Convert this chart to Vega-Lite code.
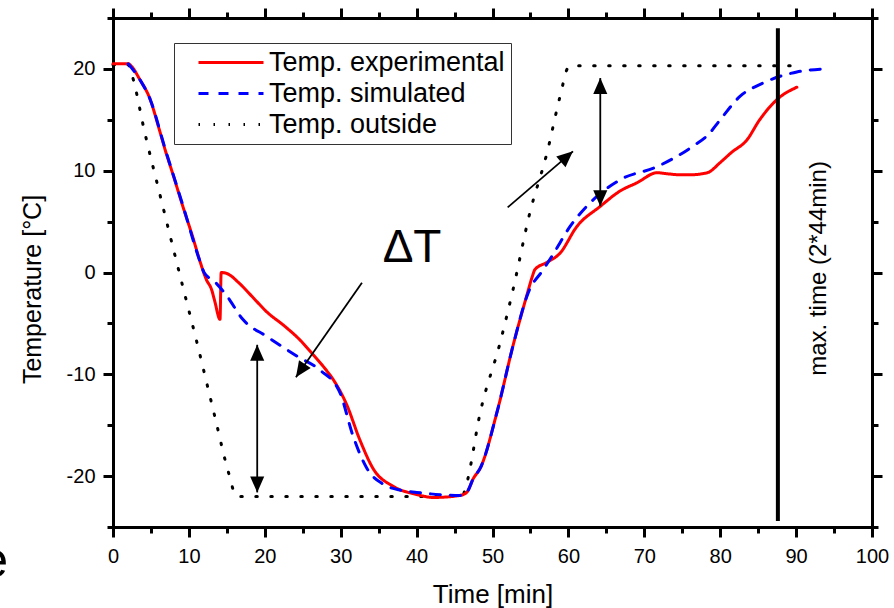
{
  "$schema": "https://vega.github.io/schema/vega-lite/v6.json",
  "width": 759,
  "height": 509,
  "autosize": {"type": "none"},
  "padding": {"left": 113, "top": 18, "right": 22, "bottom": 81},
  "background": "white",
  "config": {
    "font": "Liberation Sans",
    "view": {"stroke": null},
    "axis": {
      "grid": false,
      "domainColor": "black",
      "domainWidth": 3,
      "domainCap": "square",
      "tickColor": "black",
      "tickWidth": 3,
      "labelColor": "black",
      "titleColor": "black",
      "titleFontWeight": "normal",
      "labelFontSize": 20,
      "labelFlush": false,
      "labelOverlap": false
    }
  },
  "datasets": {
    "curves": [
      {"s": "Temp. outside", "t": 0, "T": 20.4},
      {"s": "Temp. outside", "t": 2, "T": 20.4},
      {"s": "Temp. outside", "t": 2.5, "T": 19.4},
      {"s": "Temp. outside", "t": 4.2, "T": 13.7},
      {"s": "Temp. outside", "t": 6.2, "T": 7.6},
      {"s": "Temp. outside", "t": 9.2, "T": -1.4},
      {"s": "Temp. outside", "t": 10.8, "T": -6.1},
      {"s": "Temp. outside", "t": 13.4, "T": -14.1},
      {"s": "Temp. outside", "t": 15.2, "T": -19.6},
      {"s": "Temp. outside", "t": 16.3, "T": -22},
      {"s": "Temp. outside", "t": 46, "T": -22},
      {"s": "Temp. outside", "t": 46.5, "T": -21},
      {"s": "Temp. outside", "t": 48.4, "T": -13.7},
      {"s": "Temp. outside", "t": 51, "T": -6.9},
      {"s": "Temp. outside", "t": 52.7, "T": -1.7},
      {"s": "Temp. outside", "t": 54.9, "T": 5.8},
      {"s": "Temp. outside", "t": 57.2, "T": 11.8},
      {"s": "Temp. outside", "t": 58.9, "T": 17.3},
      {"s": "Temp. outside", "t": 60, "T": 20.2},
      {"s": "Temp. outside", "t": 60.3, "T": 20.3},
      {"s": "Temp. outside", "t": 89.5, "T": 20.3},
      {"s": "Temp. experimental", "t": 0, "T": 20.5},
      {"s": "Temp. experimental", "t": 2, "T": 20.5},
      {"s": "Temp. experimental", "t": 2.5, "T": 20.2},
      {"s": "Temp. experimental", "t": 3.5, "T": 19},
      {"s": "Temp. experimental", "t": 4.9, "T": 17},
      {"s": "Temp. experimental", "t": 6, "T": 14.3},
      {"s": "Temp. experimental", "t": 6.85, "T": 12.1},
      {"s": "Temp. experimental", "t": 8, "T": 9.4},
      {"s": "Temp. experimental", "t": 9.2, "T": 6.5},
      {"s": "Temp. experimental", "t": 10.5, "T": 3.5},
      {"s": "Temp. experimental", "t": 11.5, "T": 1},
      {"s": "Temp. experimental", "t": 12.3, "T": -0.7},
      {"s": "Temp. experimental", "t": 13, "T": -1.7},
      {"s": "Temp. experimental", "t": 13.4, "T": -2.8},
      {"s": "Temp. experimental", "t": 14.1, "T": -4.6},
      {"s": "Temp. experimental", "t": 14.25, "T": 0},
      {"s": "Temp. experimental", "t": 15, "T": -0.1},
      {"s": "Temp. experimental", "t": 16.7, "T": -1.1},
      {"s": "Temp. experimental", "t": 18.5, "T": -2.5},
      {"s": "Temp. experimental", "t": 20.3, "T": -3.9},
      {"s": "Temp. experimental", "t": 22.5, "T": -5.2},
      {"s": "Temp. experimental", "t": 24.6, "T": -6.6},
      {"s": "Temp. experimental", "t": 26.4, "T": -8.1},
      {"s": "Temp. experimental", "t": 28, "T": -9.5},
      {"s": "Temp. experimental", "t": 29, "T": -10.5},
      {"s": "Temp. experimental", "t": 30.8, "T": -13},
      {"s": "Temp. experimental", "t": 32.5, "T": -16.4},
      {"s": "Temp. experimental", "t": 34.3, "T": -19.3},
      {"s": "Temp. experimental", "t": 36.9, "T": -21},
      {"s": "Temp. experimental", "t": 40, "T": -21.8},
      {"s": "Temp. experimental", "t": 42.2, "T": -22.1},
      {"s": "Temp. experimental", "t": 45.7, "T": -21.9},
      {"s": "Temp. experimental", "t": 46.6, "T": -21.6},
      {"s": "Temp. experimental", "t": 47.5, "T": -20.2},
      {"s": "Temp. experimental", "t": 48.4, "T": -19.2},
      {"s": "Temp. experimental", "t": 50.6, "T": -13.7},
      {"s": "Temp. experimental", "t": 52.7, "T": -7.2},
      {"s": "Temp. experimental", "t": 54.5, "T": -2.3},
      {"s": "Temp. experimental", "t": 55.2, "T": -0.5},
      {"s": "Temp. experimental", "t": 55.6, "T": 0.3},
      {"s": "Temp. experimental", "t": 57.2, "T": 1},
      {"s": "Temp. experimental", "t": 58.9, "T": 1.9},
      {"s": "Temp. experimental", "t": 61.1, "T": 4.5},
      {"s": "Temp. experimental", "t": 64.2, "T": 6.5},
      {"s": "Temp. experimental", "t": 66.8, "T": 8},
      {"s": "Temp. experimental", "t": 69, "T": 8.8},
      {"s": "Temp. experimental", "t": 71.7, "T": 9.8},
      {"s": "Temp. experimental", "t": 73, "T": 9.7},
      {"s": "Temp. experimental", "t": 74.7, "T": 9.6},
      {"s": "Temp. experimental", "t": 76, "T": 9.6},
      {"s": "Temp. experimental", "t": 78.3, "T": 9.8},
      {"s": "Temp. experimental", "t": 80, "T": 10.8},
      {"s": "Temp. experimental", "t": 81.5, "T": 11.8},
      {"s": "Temp. experimental", "t": 83.5, "T": 13},
      {"s": "Temp. experimental", "t": 85.2, "T": 15},
      {"s": "Temp. experimental", "t": 87.5, "T": 17},
      {"s": "Temp. experimental", "t": 90.1, "T": 18.2},
      {"s": "Temp. simulated", "t": 2, "T": 20.5},
      {"s": "Temp. simulated", "t": 3.5, "T": 19},
      {"s": "Temp. simulated", "t": 4.9, "T": 17},
      {"s": "Temp. simulated", "t": 6.85, "T": 12.2},
      {"s": "Temp. simulated", "t": 9.2, "T": 6.6},
      {"s": "Temp. simulated", "t": 11.5, "T": 1},
      {"s": "Temp. simulated", "t": 12, "T": 0},
      {"s": "Temp. simulated", "t": 13.4, "T": -0.9},
      {"s": "Temp. simulated", "t": 15, "T": -2.3},
      {"s": "Temp. simulated", "t": 17.1, "T": -4.6},
      {"s": "Temp. simulated", "t": 20.3, "T": -6.3},
      {"s": "Temp. simulated", "t": 24.2, "T": -8.2},
      {"s": "Temp. simulated", "t": 27.3, "T": -9.6},
      {"s": "Temp. simulated", "t": 29.9, "T": -11.8},
      {"s": "Temp. simulated", "t": 31.6, "T": -16},
      {"s": "Temp. simulated", "t": 33.5, "T": -19.3},
      {"s": "Temp. simulated", "t": 35.6, "T": -20.8},
      {"s": "Temp. simulated", "t": 38, "T": -21.4},
      {"s": "Temp. simulated", "t": 40, "T": -21.6},
      {"s": "Temp. simulated", "t": 45.7, "T": -21.9},
      {"s": "Temp. simulated", "t": 46.6, "T": -21.6},
      {"s": "Temp. simulated", "t": 47.5, "T": -20.2},
      {"s": "Temp. simulated", "t": 48.4, "T": -19.2},
      {"s": "Temp. simulated", "t": 50.6, "T": -13.7},
      {"s": "Temp. simulated", "t": 52.7, "T": -7.2},
      {"s": "Temp. simulated", "t": 54.7, "T": -2},
      {"s": "Temp. simulated", "t": 56.7, "T": 0.3},
      {"s": "Temp. simulated", "t": 58, "T": 1.8},
      {"s": "Temp. simulated", "t": 60.2, "T": 4.5},
      {"s": "Temp. simulated", "t": 62.8, "T": 6.8},
      {"s": "Temp. simulated", "t": 66.8, "T": 9.1},
      {"s": "Temp. simulated", "t": 71.7, "T": 10.4},
      {"s": "Temp. simulated", "t": 76.4, "T": 12.4},
      {"s": "Temp. simulated", "t": 78.5, "T": 13.6},
      {"s": "Temp. simulated", "t": 80, "T": 15},
      {"s": "Temp. simulated", "t": 82.6, "T": 17.3},
      {"s": "Temp. simulated", "t": 85.6, "T": 18.6},
      {"s": "Temp. simulated", "t": 90.1, "T": 19.7},
      {"s": "Temp. simulated", "t": 93.8, "T": 20}
    ],
    "arrows": [
      {"x1": 32.8, "y1": -1.0, "x2": 24.1, "y2": -10.3},
      {"x1": 19.0, "y1": -7.1, "x2": 19.0, "y2": -21.6},
      {"x1": 52.0, "y1": 6.4, "x2": 60.6, "y2": 11.9},
      {"x1": 64.2, "y1": 19.1, "x2": 64.2, "y2": 6.5}
    ],
    "heads": [
      {"t": 24.1, "T": -10.3, "dir": "downleft"},
      {"t": 19.0, "T": -7.1, "dir": "up"},
      {"t": 19.0, "T": -21.6, "dir": "down"},
      {"t": 60.6, "T": 11.9, "dir": "upright"},
      {"t": 64.2, "T": 19.1, "dir": "up"},
      {"t": 64.2, "T": 6.5, "dir": "down"}
    ],
    "labels": [
      {"t": 39.4, "T": 1.0, "text": "ΔT"}
    ],
    "maxline": [
      {"t": 87.6, "T1": -24.4, "T2": 24.0, "text": "max. time (2*44min)", "tx": 93.9, "ty": 0.4}
    ],
    "fragment": [
      {"t": -17.5, "T": -29.9, "text": "e"}
    ]
  },
  "resolve": {"axis": {"x": "independent", "y": "independent"}},
  "layer": [
    {
      "data": {"name": "curves"},
      "mark": {"type": "line", "strokeWidth": 3, "strokeCap": "round", "strokeJoin": "round", "interpolate": "monotone"},
      "encoding": {
        "x": {
          "field": "t", "type": "quantitative",
          "scale": {"domain": [0, 100], "nice": false, "zero": false},
          "axis": {
            "orient": "bottom",
            "values": [0, 5, 10, 15, 20, 25, 30, 35, 40, 45, 50, 55, 60, 65, 70, 75, 80, 85, 90, 95, 100],
            "labelExpr": "datum.value % 10 === 0 ? '' + datum.value : ''",
            "tickSize": {"condition": {"test": "datum.value % 10 === 0", "value": 10}, "value": 6},
            "labelPadding": 9.5,
            "title": "Time [min]",
            "titleFontSize": 26,
            "titleX": 379.5,
            "titleY": 75,
            "titleAlign": "center",
            "titleBaseline": "alphabetic"
          }
        },
        "y": {
          "field": "T", "type": "quantitative",
          "scale": {"domain": [-25, 25], "nice": false, "zero": false},
          "axis": {
            "orient": "left",
            "values": [-25, -20, -15, -10, -5, 0, 5, 10, 15, 20, 25],
            "labelExpr": "datum.value % 10 === 0 ? '' + datum.value : ''",
            "tickSize": {"condition": {"test": "datum.value % 10 === 0", "value": 10}, "value": 6},
            "labelPadding": 8,
            "title": "Temperature [°C]",
            "titleFontSize": 25,
            "titleAngle": 270,
            "titleX": -73,
            "titleY": 271,
            "titleAlign": "center",
            "titleBaseline": "alphabetic"
          }
        },
        "color": {
          "field": "s", "type": "nominal",
          "scale": {"domain": ["Temp. experimental", "Temp. simulated", "Temp. outside"], "range": ["#ff0000", "#0000ff", "#000000"]},
          "legend": {
            "orient": "none", "legendX": 61, "legendY": 25, "title": null,
            "symbolType": "stroke", "symbolSize": 4225, "symbolStrokeWidth": 3,
            "labelFontSize": 27, "labelColor": "black", "labelOffset": 4, "labelLimit": 400,
            "clipHeight": 27,
            "strokeColor": "#333333", "fillColor": "white", "padding": 6, "symbolOffset": 17, "rowPadding": 3
          }
        },
        "strokeDash": {
          "field": "s", "type": "nominal",
          "scale": {"domain": ["Temp. experimental", "Temp. simulated", "Temp. outside"], "range": [[1, 0], [10, 10], [1.5, 13.5]]},
          "legend": {
            "orient": "none", "legendX": 61, "legendY": 25, "title": null,
            "symbolType": "stroke", "symbolSize": 4225, "symbolStrokeWidth": 3,
            "labelFontSize": 27, "labelColor": "black", "labelOffset": 4, "labelLimit": 400,
            "clipHeight": 27,
            "strokeColor": "#333333", "fillColor": "white", "padding": 6, "symbolOffset": 17, "rowPadding": 3
          }
        }
      }
    },
    {
      "data": {"name": "maxline"},
      "mark": {"type": "rule", "strokeWidth": 4, "color": "black"},
      "encoding": {
        "x": {
          "field": "t", "type": "quantitative",
          "axis": {
            "orient": "top",
            "values": [0, 5, 10, 15, 20, 25, 30, 35, 40, 45, 50, 55, 60, 65, 70, 75, 80, 85, 90, 95, 100],
            "labels": false,
            "tickSize": {"condition": {"test": "datum.value % 10 === 0", "value": 10}, "value": 6},
            "title": null
          }
        },
        "y": {
          "field": "T1", "type": "quantitative",
          "axis": {
            "orient": "right",
            "values": [-25, -20, -15, -10, -5, 0, 5, 10, 15, 20, 25],
            "labels": false,
            "tickSize": {"condition": {"test": "datum.value % 10 === 0", "value": 10}, "value": 6},
            "title": null
          }
        },
        "y2": {"field": "T2"}
      }
    },
    {
      "data": {"name": "maxline"},
      "mark": {"type": "text", "angle": 270, "align": "center", "baseline": "alphabetic", "fontSize": 24, "color": "black"},
      "encoding": {
        "x": {"field": "tx", "type": "quantitative", "axis": null},
        "y": {"field": "ty", "type": "quantitative", "axis": null},
        "text": {"field": "text"}
      }
    },
    {
      "data": {"name": "labels"},
      "mark": {"type": "text", "align": "center", "baseline": "alphabetic", "fontSize": 46, "color": "black"},
      "encoding": {
        "x": {"field": "t", "type": "quantitative", "axis": null},
        "y": {"field": "T", "type": "quantitative", "axis": null},
        "text": {"field": "text"}
      }
    },
    {
      "data": {"name": "fragment"},
      "mark": {"type": "text", "align": "left", "baseline": "alphabetic", "fontSize": 50, "color": "black"},
      "encoding": {
        "x": {"field": "t", "type": "quantitative", "axis": null},
        "y": {"field": "T", "type": "quantitative", "axis": null},
        "text": {"field": "text"}
      }
    },
    {
      "data": {"name": "arrows"},
      "mark": {"type": "rule", "strokeWidth": 1.8, "color": "black"},
      "encoding": {
        "x": {"field": "x1", "type": "quantitative", "axis": null},
        "y": {"field": "y1", "type": "quantitative", "axis": null},
        "x2": {"field": "x2"},
        "y2": {"field": "y2"}
      }
    },
    {
      "data": {"name": "heads"},
      "transform": [{"filter": "datum.dir === 'up'"}],
      "mark": {"type": "point", "shape": "M0,0L0.44,1L-0.44,1Z", "size": 1024, "filled": true, "color": "black", "opacity": 1, "strokeWidth": 0, "angle": 0},
      "encoding": {
        "x": {"field": "t", "type": "quantitative", "axis": null},
        "y": {"field": "T", "type": "quantitative", "axis": null}
      }
    },
    {
      "data": {"name": "heads"},
      "transform": [{"filter": "datum.dir === 'down'"}],
      "mark": {"type": "point", "shape": "M0,0L0.44,1L-0.44,1Z", "size": 1024, "filled": true, "color": "black", "opacity": 1, "strokeWidth": 0, "angle": 180},
      "encoding": {
        "x": {"field": "t", "type": "quantitative", "axis": null},
        "y": {"field": "T", "type": "quantitative", "axis": null}
      }
    },
    {
      "data": {"name": "heads"},
      "transform": [{"filter": "datum.dir === 'downleft'"}],
      "mark": {"type": "point", "shape": "M0,0L0.44,1L-0.44,1Z", "size": 1024, "filled": true, "color": "black", "opacity": 1, "strokeWidth": 0, "angle": 214},
      "encoding": {
        "x": {"field": "t", "type": "quantitative", "axis": null},
        "y": {"field": "T", "type": "quantitative", "axis": null}
      }
    },
    {
      "data": {"name": "heads"},
      "transform": [{"filter": "datum.dir === 'upright'"}],
      "mark": {"type": "point", "shape": "M0,0L0.44,1L-0.44,1Z", "size": 1024, "filled": true, "color": "black", "opacity": 1, "strokeWidth": 0, "angle": 49},
      "encoding": {
        "x": {"field": "t", "type": "quantitative", "axis": null},
        "y": {"field": "T", "type": "quantitative", "axis": null}
      }
    }
  ]
}
